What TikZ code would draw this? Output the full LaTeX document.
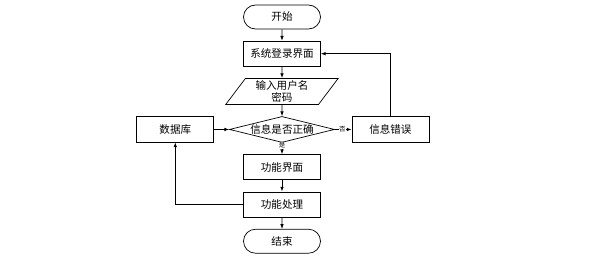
\documentclass[tikz,border=0pt]{standalone}
\usepackage{fontspec}
\newfontfamily\cjk{Noto Sans CJK SC}
\usetikzlibrary{arrows.meta,positioning,shapes.geometric,shapes.misc}

\begin{document}
\begin{tikzpicture}[node distance=0.34cm,line width=0.6pt,>={Latex[length=4pt,width=3pt]}]
    \tikzset{base/.style={draw,font=\cjk\fontsize{9}{11}\selectfont,align=center,inner sep=0pt},
      term/.style={base,rounded rectangle,minimum width=2.31cm,minimum height=0.72cm},
      box/.style={base,minimum width=2.31cm,minimum height=0.76cm},
      io/.style={base,trapezium,trapezium left angle=58,trapezium right angle=122,
        trapezium stretches=true,minimum width=3.39cm,minimum height=0.78cm},
      check/.style={base,diamond,aspect=4,minimum width=3.15cm,minimum height=0.78cm},
      tag/.style={font=\cjk\fontsize{5.5}{6}\selectfont,fill=white,inner sep=0.3pt}}
    \useasboundingbox (0,0) rectangle (18,-7.71);
    \node[term] (start) at (8.46,-0.51) {开始};
    \node[box,below=of start] (login) {系统登录界面};
    \node[io,below=of login] (input) {输入用户名\\密码};
    \node[check,below=of input] (check) {信息是否正确};
    \node[box,left=0.45cm of check] (db) {数据库};
    \node[box,right=0.5cm of check] (err) {信息错误};
    \node[box,below=of check] (func) {功能界面};
    \node[box,below=of func] (proc) {功能处理};
    \node[term,below=of proc] (stop) {结束};
    \draw[->] (start) -- (login);
    \draw[->] (login) -- (input);
    \draw[->] (input) -- (check);
    \draw[->] (check) -- node[tag,pos=0.25] {是} (func);
    \draw[->] (func) -- (proc);
    \draw[->] (proc) -- (stop);
    \draw[->] (db) -- (check);
    \draw[->] (check) -- node[tag,pos=0.45] {否} (err);
    \draw[->] (err.north) |- (login.east);
    \draw[->] (proc.west) -| (db.south);
  \end{tikzpicture}
\end{document}
